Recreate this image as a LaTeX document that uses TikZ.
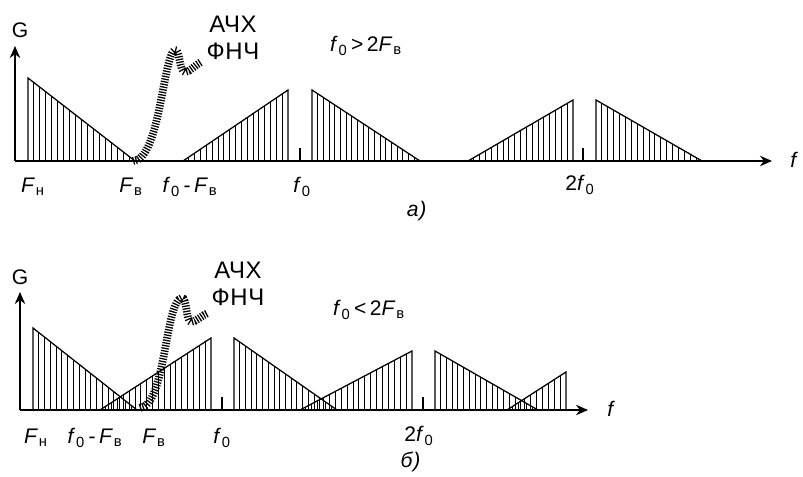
\documentclass[tikz,border=0pt]{standalone}
\usepackage{fontspec}
\setmainfont{Liberation Sans}
\usetikzlibrary{arrows.meta, calc}

% hatched spectrum triangle: #1 vertical edge x, #2 foot x, #3 top y, #4 base y
\newcommand{\spectri}[4]{%
  \draw[edge] (#1,#4) -- (#1,#3) -- (#2,#4);
  \pgfmathsetmacro{\nlines}{int(abs(#2-#1)/6)}
  \foreach \k in {1,...,\nlines}
    \draw[hatch] ($(#1,#4)!{\k/(\nlines+1)}!(#2,#4)$) -- ($(#1,#3)!{\k/(\nlines+1)}!(#2,#4)$);
}

\begin{document}
\begin{tikzpicture}[x=0.025cm,y=-0.025cm,
  axis/.style={line width=1pt,-{Stealth[length=3mm,width=2.6mm]}},
  edge/.style={line width=0.9pt},
  hatch/.style={line width=0.7pt},
  tick/.style={line width=0.8pt},
  lpf/.style={line width=5.5pt,dash pattern=on 0.9pt off 1pt},
  lbl/.style={font=\fontsize{15pt}{17pt}\selectfont\addfontfeature{LetterSpace=4},inner sep=0pt},
  big/.style={font=\fontsize{17pt}{19pt}\selectfont\addfontfeature{LetterSpace=3},inner sep=0pt,align=center}]
  \useasboundingbox (0,0) rectangle (803,477);

  % ---- a) f0 > 2Fv ----
  \coordinate (oa) at (15,161);
  \draw[axis] (oa) -- (772,161) coordinate (fa);
  \draw[axis] (oa) -- (15,46) coordinate (ga);
  \spectri{28}{135}{78}{161}
  \spectri{288}{183}{90}{161}
  \spectri{312}{420}{90}{161}
  \spectri{573}{468}{100}{161}
  \spectri{596}{702}{100}{161}
  \draw[tick] (300,148) -- (300,161);
  \draw[tick] (583,148) -- (583,161);
  \draw[lpf] (133,161) .. controls (160,160) and (163,55) .. (175,50)
    .. controls (180,48) and (179,72) .. (185,72)
    .. controls (190,72) and (195,65) .. (201,62);

  \node[lbl] (Ga) at (20,30) {G};
  \node[lbl,anchor=west] (fla) at (790,160) {\textit{f}};
  \node[big] (acha) at (233,38) {АЧХ\\ФНЧ};
  \node[lbl] (conda) at (366,46) {\textit{f}\textsubscript{0}\,>\,2\textit{F}\textsubscript{в}};
  \node[lbl] (Fna) at (33,187) {\textit{F}\textsubscript{н}};
  \node[lbl] (Fva) at (131,187) {\textit{F}\textsubscript{в}};
  \node[lbl] (dfa) at (190,187) {\textit{f}\textsubscript{0}\,-\,\textit{F}\textsubscript{в}};
  \node[lbl] (f0a) at (302,187) {\textit{f}\textsubscript{0}};
  \node[lbl] (f2a) at (580,185) {2\textit{f}\textsubscript{0}};
  \node[lbl] (capa) at (417,211) {\textit{а)}};

  % ---- b) f0 < 2Fv ----
  \coordinate (ob) at (20,410);
  \draw[axis] (ob) -- (588,410) coordinate (fb);
  \draw[axis] (ob) -- (20,292) coordinate (gb);
  \spectri{33}{137}{328}{410}
  \spectri{211}{100}{338}{410}
  \spectri{234}{337}{338}{410}
  \spectri{412}{300}{351}{410}
  \spectri{435}{538}{351}{410}
  \spectri{566}{507}{372}{410}
  \draw[tick] (222,397) -- (222,410);
  \draw[tick] (423,397) -- (423,410);
  \draw[lpf] (140,408) .. controls (166,405) and (165,300) .. (182,298)
    .. controls (187,297) and (186,322) .. (191,322)
    .. controls (196,322) and (202,315) .. (208,313);

  \node[lbl] (Gb) at (20,277) {G};
  \node[lbl,anchor=west] (flb) at (607,409) {\textit{f}};
  \node[big] (achb) at (238,284) {АЧХ\\ФНЧ};
  \node[lbl] (condb) at (369,310) {\textit{f}\textsubscript{0}\,<\,2\textit{F}\textsubscript{в}};
  \node[lbl] (Fnb) at (36,438) {\textit{F}\textsubscript{н}};
  \node[lbl] (dfb) at (95,438) {\textit{f}\textsubscript{0}\,-\,\textit{F}\textsubscript{в}};
  \node[lbl] (Fvb) at (154,438) {\textit{F}\textsubscript{в}};
  \node[lbl] (f0b) at (222,438) {\textit{f}\textsubscript{0}};
  \node[lbl] (f2b) at (419,436) {2\textit{f}\textsubscript{0}};
  \node[lbl] (capb) at (411,462) {\textit{б)}};
\end{tikzpicture}
\end{document}
